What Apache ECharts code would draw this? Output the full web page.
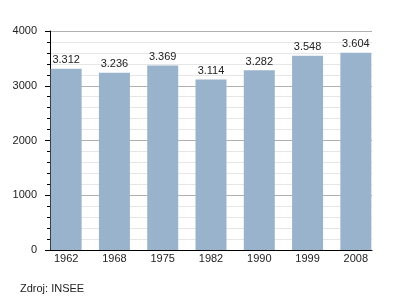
<!DOCTYPE html>
<html><head><meta charset="utf-8">
<script src="https://cdn.jsdelivr.net/npm/echarts@6/dist/echarts.min.js"></script>
<style>html,body{margin:0;padding:0;background:#fff}#c{width:400px;height:300px}</style>
</head><body><div id="c"></div>
<script>
const years = ['1962','1968','1975','1982','1990','1999','2008'];
const population = [3312, 3236, 3369, 3114, 3282, 3548, 3604];
const yMin = 0, yMax = 4000, yStep = 1000;
const sourceText = 'Zdroj: INSEE';

const fmt = v => String(v).replace(/\B(?=(\d{3})+(?!\d))/g, '.');
const font = 'Liberation Sans, Arial, sans-serif';
const chart = echarts.init(document.getElementById('c'));
chart.setOption({
  animation: false,
  textStyle: {fontFamily: font},
  grid: [
    {left: 50, right: 28, top: 31, bottom: 50},
    {left: 42, right: 20, top: 31, bottom: 50}
  ],
  graphic: [{type: 'text', left: 20, top: 283, style: {text: sourceText, fontSize: 11, fill: '#222', fontFamily: font}}],
  xAxis: [
    {type: 'value', gridIndex: 0, min: 0, max: 1, axisLine: {show: true, lineStyle: {color: '#000', width: 1}},
     axisTick: {show: false}, axisLabel: {show: false}, splitLine: {show: false}},
    {type: 'category', gridIndex: 1, data: years, boundaryGap: true,
     axisLine: {show: false}, axisTick: {show: false},
     axisLabel: {fontSize: 11, color: '#222', margin: 3, fontFamily: font}}
  ],
  yAxis: [
    {type: 'value', gridIndex: 0, min: yMin, max: yMax, interval: yStep,
     axisLine: {show: true, lineStyle: {color: '#000', width: 1}},
     axisTick: {show: true, length: 5, lineStyle: {color: '#000'}},
     minorTick: {show: true, splitNumber: 5, length: 3, lineStyle: {color: '#000'}},
     splitLine: {show: true, lineStyle: {color: '#b0b0b0', width: 1}},
     minorSplitLine: {show: true, lineStyle: {color: '#e6e6e6', width: 1}},
     axisLabel: {fontSize: 11, color: '#222', margin: 13, fontFamily: font, formatter: v => String(v)}},
    {type: 'value', gridIndex: 1, min: yMin, max: yMax, show: false}
  ],
  series: [{
    type: 'bar', xAxisIndex: 1, yAxisIndex: 1, data: population, barWidth: 31,
    itemStyle: {color: '#9ab3cd'},
    label: {show: true, position: 'top', distance: 3, fontSize: 11, color: '#222', fontFamily: font,
            formatter: p => fmt(p.value)}
  }]
});
</script></body></html>
